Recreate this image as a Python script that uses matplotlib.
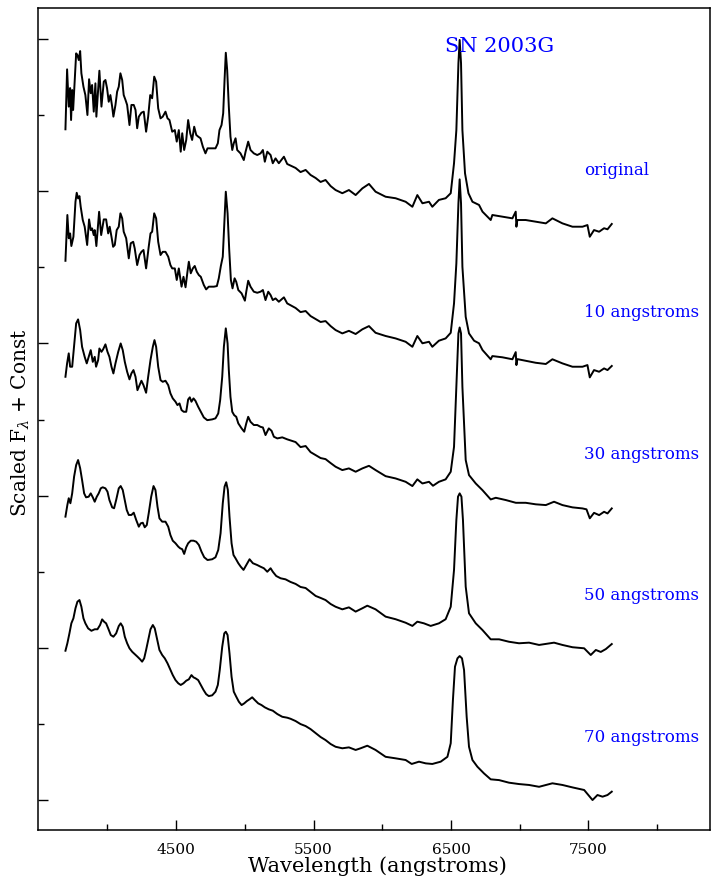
import matplotlib.pyplot as plt
from matplotlib.ticker import FixedLocator

plt.rcParams['font.family'] = 'DejaVu Serif'
plt.rcParams['mathtext.fontset'] = 'dejavuserif'

# wavelength (angstroms) and scaled flux
orig_wave = [
    3694, 3706, 3718, 3728, 3735, 3743, 3750, 3759, 3772, 3781,
    3791, 3801, 3810, 3825, 3839, 3854, 3866, 3878, 3888, 3900,
    3912, 3919, 3941, 3956, 3973, 3985, 3997, 4009, 4021, 4034,
    4043, 4058, 4070, 4082, 4094, 4107, 4118, 4131, 4143, 4160,
    4174, 4191, 4204, 4216, 4228, 4247, 4264, 4281, 4296, 4311,
    4325, 4340, 4354, 4369, 4386, 4402, 4422, 4437, 4451, 4471,
    4490, 4504, 4519, 4533, 4544, 4558, 4573, 4587, 4602, 4616,
    4631, 4646, 4660, 4677, 4694, 4713, 4728, 4762, 4786, 4803,
    4815, 4830, 4842, 4852, 4861, 4871, 4883, 4895, 4908, 4919,
    4932, 4944, 4968, 4992, 5005, 5024, 5041, 5065, 5090, 5114,
    5131, 5145, 5163, 5187, 5203, 5223, 5247, 5284, 5308, 5369,
    5405, 5442, 5478, 5515, 5551, 5587, 5624, 5660, 5709, 5757,
    5806, 5855, 5903, 5951, 6024, 6097, 6170, 6219, 6255, 6292,
    6340, 6364, 6412, 6461, 6498, 6522, 6539, 6554, 6563, 6573,
    6583, 6602, 6627, 6656, 6704, 6729, 6789, 6801, 6874, 6947,
    6971, 6976, 6983, 7044, 7117, 7190, 7238, 7311, 7384, 7457,
    7493, 7510, 7541, 7578, 7614, 7639, 7670]
orig_flux = [
    0.680, 1.074, 0.829, 0.951, 0.741, 0.938, 0.807, 0.960, 1.179, 1.168,
    1.135, 1.194, 1.048, 0.960, 0.905, 0.774, 1.009, 0.917, 0.971, 0.796,
    0.982, 0.763, 1.065, 0.829, 0.993, 1.004, 0.949, 0.861, 0.905, 0.829,
    0.763, 0.840, 0.927, 0.960, 1.048, 1.004, 0.905, 0.873, 0.840, 0.708,
    0.840, 0.840, 0.807, 0.687, 0.763, 0.789, 0.796, 0.664, 0.763, 0.905,
    0.884, 1.026, 0.993, 0.818, 0.752, 0.763, 0.796, 0.752, 0.741, 0.664,
    0.675, 0.599, 0.675, 0.533, 0.654, 0.544, 0.610, 0.741, 0.654, 0.610,
    0.697, 0.643, 0.632, 0.621, 0.566, 0.522, 0.555, 0.555, 0.555, 0.588,
    0.675, 0.708, 0.785, 1.004, 1.183, 1.070, 0.829, 0.632, 0.544, 0.588,
    0.621, 0.544, 0.522, 0.478, 0.533, 0.599, 0.544, 0.522, 0.511, 0.522,
    0.544, 0.467, 0.533, 0.511, 0.457, 0.489, 0.457, 0.500, 0.452, 0.426,
    0.399, 0.413, 0.380, 0.360, 0.334, 0.347, 0.307, 0.281, 0.260, 0.281,
    0.248, 0.292, 0.321, 0.270, 0.237, 0.227, 0.204, 0.171, 0.248, 0.194,
    0.204, 0.171, 0.216, 0.227, 0.260, 0.457, 0.675, 1.114, 1.267, 1.114,
    0.675, 0.391, 0.260, 0.204, 0.183, 0.139, 0.084, 0.117, 0.106, 0.095,
    0.139, 0.040, 0.084, 0.084, 0.073, 0.062, 0.095, 0.062, 0.040, 0.040,
    0.051, -0.026, 0.018, 0.007, 0.030, 0.023, 0.058]

w10 = [
    3694, 3708, 3718, 3728, 3737, 3752, 3767, 3776, 3786, 3796,
    3805, 3820, 3834, 3852, 3866, 3878, 3888, 3900, 3907, 3919,
    3939, 3954, 3973, 3990, 4005, 4016, 4029, 4041, 4053, 4067,
    4082, 4094, 4107, 4118, 4136, 4155, 4169, 4187, 4198, 4216,
    4233, 4247, 4262, 4281, 4300, 4313, 4325, 4340, 4354, 4369,
    4386, 4402, 4422, 4442, 4458, 4471, 4490, 4504, 4519, 4539,
    4553, 4568, 4582, 4592, 4606, 4621, 4635, 4650, 4665, 4679,
    4701, 4718, 4737, 4774, 4796, 4810, 4825, 4839, 4850, 4861,
    4874, 4886, 4898, 4910, 4925, 4937, 4952, 4976, 5000, 5010,
    5024, 5041, 5065, 5090, 5114, 5131, 5150, 5170, 5187, 5203,
    5223, 5247, 5284, 5308, 5369, 5405, 5442, 5478, 5515, 5551,
    5587, 5624, 5660, 5709, 5757, 5806, 5855, 5903, 5951, 6024,
    6097, 6170, 6219, 6255, 6292, 6340, 6364, 6412, 6461, 6498,
    6522, 6539, 6554, 6563, 6573, 6583, 6607, 6631, 6668, 6704,
    6729, 6789, 6801, 6874, 6947, 6971, 6976, 6983, 7044, 7117,
    7190, 7238, 7311, 7384, 7457, 7493, 7510, 7541, 7578, 7614,
    7639, 7670]
f10 = [
    0.748, 1.049, 0.896, 0.928, 0.845, 0.906, 1.136, 1.195, 1.158, 1.173,
    1.103, 1.016, 0.972, 0.852, 1.020, 0.950, 0.961, 0.917, 0.950, 0.845,
    1.070, 0.917, 1.020, 1.020, 0.928, 0.972, 0.906, 0.840, 0.852, 0.950,
    0.972, 1.060, 1.027, 0.939, 0.896, 0.764, 0.863, 0.873, 0.830, 0.720,
    0.786, 0.807, 0.819, 0.698, 0.840, 0.928, 0.939, 1.060, 1.027, 0.873,
    0.786, 0.807, 0.807, 0.775, 0.720, 0.698, 0.698, 0.622, 0.698, 0.578,
    0.643, 0.574, 0.676, 0.742, 0.666, 0.698, 0.714, 0.676, 0.654, 0.643,
    0.589, 0.560, 0.578, 0.578, 0.582, 0.633, 0.714, 0.775, 0.994, 1.202,
    1.060, 0.819, 0.622, 0.567, 0.633, 0.610, 0.556, 0.534, 0.486, 0.545,
    0.617, 0.578, 0.545, 0.538, 0.545, 0.556, 0.490, 0.545, 0.523, 0.490,
    0.501, 0.479, 0.508, 0.468, 0.438, 0.411, 0.418, 0.385, 0.365, 0.346,
    0.352, 0.319, 0.293, 0.271, 0.288, 0.267, 0.298, 0.319, 0.275, 0.254,
    0.238, 0.216, 0.183, 0.254, 0.206, 0.216, 0.183, 0.223, 0.238, 0.275,
    0.468, 0.731, 1.125, 1.283, 1.125, 0.709, 0.380, 0.271, 0.223, 0.206,
    0.162, 0.101, 0.122, 0.114, 0.101, 0.148, 0.063, 0.102, 0.091, 0.078,
    0.070, 0.101, 0.074, 0.052, 0.052, 0.063, -0.018, 0.030, 0.019, 0.041,
    0.030, 0.057]

w30 = [
    3694, 3706, 3718, 3728, 3743, 3754, 3772, 3786, 3801, 3815,
    3834, 3849, 3863, 3878, 3893, 3907, 3917, 3932, 3941, 3956,
    3968, 3985, 4000, 4014, 4029, 4043, 4058, 4078, 4096, 4111,
    4126, 4143, 4160, 4174, 4189, 4204, 4218, 4233, 4247, 4262,
    4281, 4296, 4313, 4330, 4342, 4354, 4369, 4386, 4402, 4422,
    4442, 4458, 4475, 4495, 4509, 4524, 4539, 4555, 4573, 4587,
    4599, 4611, 4626, 4640, 4660, 4679, 4701, 4726, 4762, 4786,
    4806, 4820, 4835, 4847, 4861, 4874, 4883, 4895, 4908, 4922,
    4937, 4952, 4976, 4995, 5010, 5024, 5041, 5065, 5090, 5114,
    5131, 5150, 5174, 5194, 5211, 5236, 5272, 5308, 5369, 5405,
    5442, 5478, 5515, 5551, 5587, 5624, 5660, 5709, 5757, 5806,
    5855, 5903, 5951, 6024, 6097, 6170, 6219, 6255, 6292, 6340,
    6369, 6412, 6461, 6498, 6522, 6539, 6554, 6563, 6573, 6583,
    6607, 6631, 6680, 6729, 6789, 6826, 6899, 6972, 7044, 7117,
    7190, 7250, 7311, 7384, 7457, 7486, 7510, 7541, 7578, 7614,
    7639, 7670]
f30 = [
    0.918, 1.006, 1.072, 0.984, 0.984, 1.093, 1.269, 1.295, 1.225, 1.115,
    1.049, 1.006, 1.049, 1.093, 1.016, 1.049, 0.984, 1.028, 1.104, 1.082,
    1.098, 1.131, 1.082, 1.049, 0.984, 0.940, 1.006, 1.082, 1.137, 1.093,
    1.016, 0.951, 0.901, 0.940, 0.962, 0.918, 0.830, 0.863, 0.892, 0.863,
    0.813, 0.918, 1.028, 1.115, 1.159, 1.115, 0.984, 0.896, 0.885, 0.892,
    0.863, 0.809, 0.776, 0.754, 0.732, 0.743, 0.699, 0.688, 0.688, 0.769,
    0.783, 0.754, 0.776, 0.760, 0.721, 0.688, 0.651, 0.633, 0.638, 0.645,
    0.677, 0.765, 0.918, 1.115, 1.236, 1.137, 0.962, 0.786, 0.688, 0.666,
    0.655, 0.612, 0.579, 0.557, 0.612, 0.655, 0.622, 0.601, 0.601, 0.589,
    0.585, 0.535, 0.579, 0.563, 0.524, 0.513, 0.520, 0.507, 0.489, 0.456,
    0.463, 0.423, 0.403, 0.384, 0.377, 0.351, 0.327, 0.305, 0.316, 0.294,
    0.316, 0.333, 0.305, 0.265, 0.250, 0.228, 0.200, 0.244, 0.217, 0.228,
    0.202, 0.228, 0.244, 0.294, 0.458, 0.852, 1.203, 1.242, 1.203, 0.852,
    0.371, 0.272, 0.217, 0.173, 0.112, 0.123, 0.108, 0.090, 0.090, 0.080,
    0.075, 0.097, 0.075, 0.060, 0.053, 0.047, -0.012, 0.024, 0.009, 0.031,
    0.020, 0.053]

w50 = [
    3694, 3708, 3718, 3730, 3743, 3757, 3772, 3786, 3801, 3815,
    3830, 3844, 3863, 3878, 3893, 3907, 3922, 3936, 3951, 3965,
    3985, 4000, 4014, 4034, 4048, 4063, 4082, 4096, 4111, 4126,
    4140, 4155, 4174, 4191, 4209, 4228, 4242, 4257, 4271, 4286,
    4300, 4318, 4335, 4349, 4364, 4378, 4398, 4422, 4442, 4458,
    4475, 4495, 4515, 4529, 4544, 4558, 4573, 4587, 4606, 4626,
    4646, 4665, 4684, 4704, 4728, 4762, 4786, 4806, 4823, 4839,
    4852, 4864, 4876, 4888, 4903, 4917, 4932, 4952, 4970, 4990,
    5010, 5034, 5058, 5090, 5114, 5138, 5163, 5187, 5203, 5228,
    5260, 5296, 5332, 5369, 5405, 5442, 5478, 5515, 5551, 5587,
    5624, 5660, 5709, 5757, 5806, 5855, 5891, 5951, 6024, 6097,
    6170, 6219, 6255, 6303, 6352, 6412, 6461, 6498, 6522, 6539,
    6551, 6563, 6576, 6587, 6607, 6631, 6680, 6729, 6789, 6850,
    6922, 6995, 7068, 7141, 7250, 7311, 7384, 7469, 7517, 7554,
    7590, 7627, 7670]
f50 = [
    0.930, 1.007, 1.051, 1.018, 1.083, 1.193, 1.269, 1.302, 1.248, 1.171,
    1.083, 1.057, 1.061, 1.083, 1.057, 1.028, 1.061, 1.083, 1.116, 1.123,
    1.116, 1.094, 1.039, 0.991, 0.985, 1.039, 1.116, 1.131, 1.105, 1.039,
    0.974, 0.941, 0.941, 0.956, 0.908, 0.864, 0.886, 0.890, 0.860, 0.875,
    0.952, 1.061, 1.131, 1.105, 0.995, 0.919, 0.897, 0.897, 0.864, 0.809,
    0.772, 0.755, 0.733, 0.722, 0.716, 0.685, 0.729, 0.755, 0.772, 0.772,
    0.765, 0.744, 0.700, 0.663, 0.645, 0.650, 0.663, 0.711, 0.821, 1.018,
    1.127, 1.156, 1.105, 0.930, 0.755, 0.678, 0.656, 0.624, 0.601, 0.580,
    0.612, 0.650, 0.624, 0.612, 0.601, 0.591, 0.568, 0.591, 0.568, 0.540,
    0.525, 0.518, 0.501, 0.488, 0.468, 0.461, 0.435, 0.409, 0.396, 0.382,
    0.356, 0.338, 0.321, 0.334, 0.306, 0.328, 0.345, 0.321, 0.273, 0.256,
    0.233, 0.212, 0.240, 0.229, 0.212, 0.229, 0.256, 0.338, 0.580, 0.908,
    1.061, 1.083, 1.061, 0.908, 0.470, 0.295, 0.229, 0.185, 0.124, 0.124,
    0.108, 0.098, 0.102, 0.087, 0.102, 0.087, 0.072, 0.065, 0.021, 0.054,
    0.041, 0.060, 0.093]

w70 = [
    3694, 3708, 3723, 3737, 3752, 3767, 3781, 3796, 3810, 3825,
    3839, 3859, 3883, 3907, 3927, 3946, 3961, 3976, 3990, 4005,
    4024, 4043, 4063, 4082, 4096, 4111, 4126, 4143, 4160, 4180,
    4198, 4218, 4238, 4252, 4267, 4281, 4296, 4313, 4330, 4344,
    4362, 4378, 4398, 4417, 4437, 4456, 4475, 4495, 4515, 4533,
    4553, 4573, 4592, 4611, 4626, 4640, 4660, 4679, 4699, 4718,
    4737, 4762, 4786, 4803, 4817, 4835, 4850, 4861, 4874, 4888,
    4903, 4919, 4937, 4956, 4976, 4995, 5014, 5034, 5053, 5072,
    5097, 5121, 5145, 5174, 5203, 5236, 5272, 5308, 5332, 5369,
    5405, 5442, 5478, 5515, 5551, 5587, 5624, 5660, 5709, 5757,
    5806, 5842, 5891, 5951, 6024, 6097, 6170, 6214, 6267, 6316,
    6364, 6425, 6474, 6498, 6514, 6529, 6547, 6563, 6580, 6595,
    6614, 6631, 6656, 6692, 6740, 6789, 6850, 6922, 6995, 7068,
    7141, 7238, 7311, 7384, 7469, 7530, 7566, 7603, 7639, 7670]
f70 = [
    0.981, 1.030, 1.095, 1.161, 1.194, 1.260, 1.303, 1.314, 1.270, 1.194,
    1.161, 1.128, 1.112, 1.122, 1.122, 1.150, 1.187, 1.171, 1.161, 1.128,
    1.084, 1.073, 1.095, 1.143, 1.161, 1.139, 1.073, 1.030, 0.997, 0.974,
    0.959, 0.942, 0.924, 0.909, 0.931, 0.986, 1.051, 1.122, 1.150, 1.128,
    1.051, 0.986, 0.953, 0.931, 0.898, 0.859, 0.821, 0.788, 0.767, 0.756,
    0.767, 0.784, 0.793, 0.821, 0.806, 0.800, 0.788, 0.756, 0.723, 0.696,
    0.683, 0.688, 0.712, 0.756, 0.854, 1.007, 1.095, 1.106, 1.084, 0.964,
    0.810, 0.712, 0.679, 0.646, 0.624, 0.635, 0.650, 0.662, 0.675, 0.657,
    0.635, 0.624, 0.609, 0.596, 0.587, 0.565, 0.547, 0.541, 0.534, 0.519,
    0.499, 0.486, 0.466, 0.440, 0.414, 0.394, 0.368, 0.350, 0.340, 0.346,
    0.329, 0.340, 0.357, 0.329, 0.284, 0.274, 0.263, 0.237, 0.252, 0.241,
    0.237, 0.252, 0.284, 0.373, 0.657, 0.876, 0.931, 0.946, 0.931, 0.854,
    0.547, 0.350, 0.263, 0.219, 0.175, 0.136, 0.131, 0.114, 0.105, 0.099,
    0.087, 0.110, 0.099, 0.083, 0.066, 0.000, 0.033, 0.022, 0.033, 0.055]

labels = ['original', '10 angstroms', '30 angstroms', '50 angstroms', '70 angstroms']
offsets = [3.727, 2.795, 1.863, 0.932, 0.0]
spectra = [(orig_wave, orig_flux), (w10, f10), (w30, f30), (w50, f50), (w70, f70)]

fig = plt.figure(figsize=(7.12, 8.8), dpi=100)
ax = fig.add_axes([0.0539, 0.0568, 0.9433, 0.9341])

for (wave, flux), const, name in zip(spectra, offsets, labels):
    ax.plot(wave, [v + const for v in flux], color='black', lw=1.4)
    # smoothing label sits to the right of each spectrum
    ax.text(7466, const + 0.41, name, color='blue', fontsize=12, va='center')

ax.text(6854, 4.954, 'SN 2003G', color='blue', fontsize=15,
        ha='center', va='center')

ax.set_xlim(3497, 8385)
ax.set_ylim(-0.197, 5.204)
ax.xaxis.set_major_locator(FixedLocator([4500, 5500, 6500, 7500]))
ax.xaxis.set_minor_locator(FixedLocator([4000, 5000, 6000, 7000, 8000]))
ax.yaxis.set_major_locator(FixedLocator([0, 1, 2, 3, 4, 5]))
ax.yaxis.set_minor_locator(FixedLocator([0.5, 1.5, 2.5, 3.5, 4.5]))
ax.set_yticklabels([])
ax.tick_params(which='major', direction='in', length=7.5, width=1.0,
               labelsize=11, pad=9)
ax.tick_params(which='minor', direction='in', length=4, width=1.0)
for s in ax.spines.values():
    s.set_linewidth(1.1)

ax.set_xlabel('Wavelength (angstroms)', fontsize=15)
ax.set_ylabel(r'Scaled F$_\lambda$ + Const', fontsize=14.5)
ax.xaxis.set_label_coords(0.505, -0.032)
ax.yaxis.set_label_coords(-0.01, 0.496)

fig.savefig('out.png', dpi=100)
